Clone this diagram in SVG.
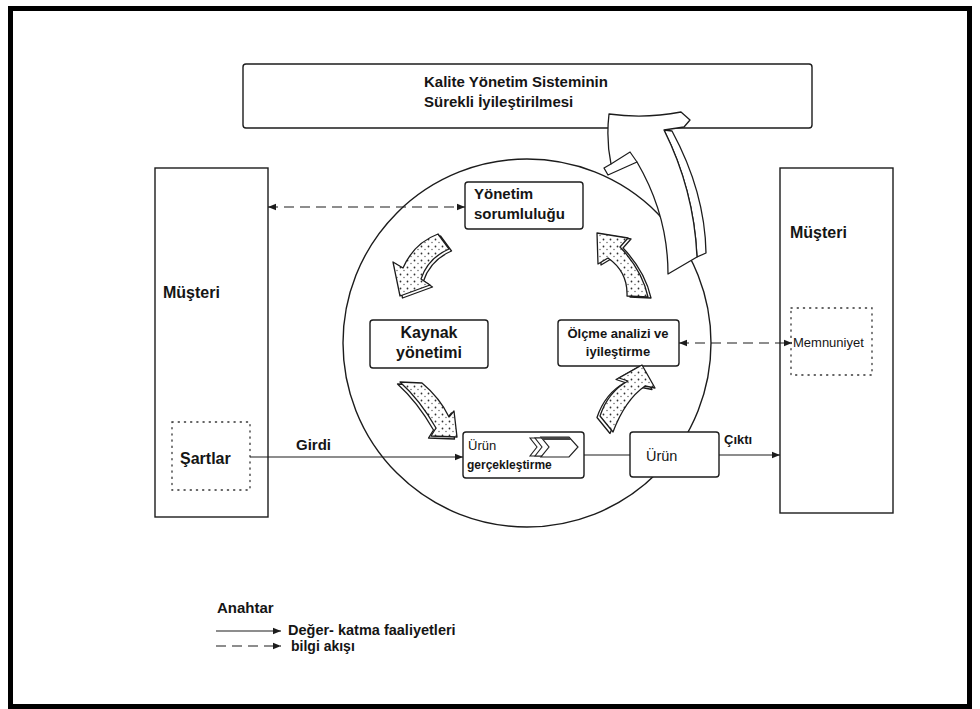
<svg xmlns="http://www.w3.org/2000/svg" xmlns:xlink="http://www.w3.org/1999/xlink" width="980" height="709" viewBox="0 0 980 709">
<style>
text{font-family:"Liberation Sans",Arial,sans-serif;fill:#151515}
.b{font-weight:bold}
.box{fill:#fff;stroke:#1c1c1c;stroke-width:1.4}
.dot{fill:none;stroke:#333;stroke-width:1.3;stroke-dasharray:1.2 5;stroke-linecap:round}
.solid{fill:none;stroke:#1c1c1c;stroke-width:1.2}
.dash{fill:none;stroke:#1c1c1c;stroke-width:1.2;stroke-dasharray:10 6}
.ol{fill:#fff;stroke:#1c1c1c;stroke-width:1.3;stroke-linejoin:round}
.st{fill:url(#dots);stroke:#1c1c1c;stroke-width:1.3;stroke-linejoin:round}
</style>
<defs>
<marker id="ah" viewBox="0 0 10 10" refX="10" refY="5" markerWidth="10" markerHeight="8" markerUnits="userSpaceOnUse" orient="auto-start-reverse">
<path d="M0,1 L10,5 L0,9 Z" fill="#1c1c1c"/>
</marker>
<pattern id="dots" width="7" height="7" patternUnits="userSpaceOnUse">
<rect width="7" height="7" fill="#fff"/>
<circle cx="1.5" cy="1.5" r="0.9" fill="#333"/>
<circle cx="5" cy="4.5" r="0.7" fill="#555"/>
</pattern>
<path id="a1" d="M438,234 L449,249 Q428,258 421,279 L430,285 L400,296 L393,262 L403,268 Q414,243 438,234 Z"/>
<path id="a2" d="M627,296 Q628,272 608,258 L598,264 L597,233 L628,238 L620,247 Q642,270 648,297 Z"/>
<path id="a3" d="M400,382 L422,383 Q440,398 449,417 L454,411 L457,437 L431,436 L436,428 Q420,400 400,382 Z"/>
<path id="a4" d="M600,416 Q608,392 628,381 L619,378 L642,365 L655,388 L645,386 Q625,400 613,432 Z"/>
</defs>

<rect x="0" y="0" width="980" height="709" fill="#fff"/>
<rect x="10.5" y="8.5" width="959" height="698" fill="none" stroke="#000" stroke-width="5"/>

<g id="top-box">
<rect class="box" x="243" y="64" width="569" height="64" rx="3"/>
<text class="b" x="424" y="87" font-size="15">Kalite Yönetim Sisteminin</text>
<text class="b" x="424" y="107" font-size="15">Sürekli İyileştirilmesi</text>
</g>

<g id="cycle-circle">
<ellipse cx="527" cy="343" rx="184" ry="184" fill="none" stroke="#1c1c1c" stroke-width="1.4"/>
</g>

<g id="improvement-arrow">
<path class="ol" d="M664,130 L672,131 Q705,192 706,253 L697,257 Q694,190 664,130 Z"/>
<path class="ol" d="M609,114 Q645,119 681,112 L690,120 L684,127 L664,130 Q694,190 697,257 L668,274 Q668,215 637,162 L608,175 L604,168 L611,164 Q606,140 609,114 Z"/>
<path class="solid" d="M611,164 L630,152 L637,162"/>
</g>

<g id="customer-left">
<rect class="box" x="155" y="168" width="113" height="349"/>
<text class="b" x="163" y="298" font-size="16">Müşteri</text>
</g>
<g id="sartlar">
<rect class="dot" x="172" y="422" width="78" height="68"/>
<text class="b" x="180" y="464" font-size="16">Şartlar</text>
</g>

<g id="customer-right">
<rect class="box" x="780" y="168" width="113" height="345"/>
<text class="b" x="790" y="238" font-size="16">Müşteri</text>
</g>
<g id="memnuniyet">
<rect class="dot" x="791" y="308" width="81" height="67"/>
<text x="793" y="347" font-size="13">Memnuniyet</text>
</g>

<g id="yonetim">
<rect class="box" x="465" y="182" width="118" height="47" rx="3"/>
<text class="b" x="474" y="199" font-size="15">Yönetim</text>
<text class="b" x="474" y="219" font-size="15">sorumluluğu</text>
</g>

<g id="kaynak">
<rect class="box" x="370" y="320" width="118" height="48" rx="3"/>
<text class="b" x="429" y="338" font-size="16" text-anchor="middle">Kaynak</text>
<text class="b" x="429" y="358" font-size="16" text-anchor="middle">yönetimi</text>
</g>

<g id="olcme">
<rect class="box" x="558" y="320" width="121" height="46" rx="3"/>
<text class="b" x="618" y="338" font-size="13" text-anchor="middle">Ölçme analizi ve</text>
<text class="b" x="618" y="356" font-size="13" text-anchor="middle">iyileştirme</text>
</g>

<g id="urun-gerceklestirme">
<rect class="box" x="463" y="432" width="121" height="46" rx="3"/>
<path d="M530,438 L555,438 L563,447 L555,456 L530,456 L537,447 Z" fill="#fff" stroke="#222" stroke-width="1.1"/>
<path d="M535,438 L560,438 L568,447 L560,456 L535,456 L542,447 Z" fill="#fff" stroke="#222" stroke-width="1.1"/>
<path d="M541,437 L569,437 L578,447 L569,457 L541,457 L549,447 Z" fill="#fff" stroke="#222" stroke-width="1.2"/>
<path d="M541,437 L569,437 L571,440 L543,440 Z" fill="#444"/>
<text x="468" y="450" font-size="13">Ürün</text>
<text class="b" x="467" y="469" font-size="12">gerçekleştirme</text>
</g>

<g id="urun">
<rect class="box" x="630" y="432" width="89" height="45" rx="3"/>
<text x="646" y="461" font-size="14.5">Ürün</text>
</g>

<g id="cycle-arrows">
<use xlink:href="#a1" class="ol" transform="translate(2.5,2)"/>
<use xlink:href="#a1" class="st"/>
<use xlink:href="#a2" class="ol" transform="translate(3,1)"/>
<use xlink:href="#a2" class="st"/>
<use xlink:href="#a3" class="ol" transform="translate(-2.5,2)"/>
<use xlink:href="#a3" class="st"/>
<use xlink:href="#a4" class="ol" transform="translate(-3,1.5)"/>
<use xlink:href="#a4" class="st"/>
</g>

<g id="connectors">
<line class="dash" x1="268" y1="207" x2="465" y2="207" marker-start="url(#ah)" marker-end="url(#ah)"/>
<line class="dash" x1="679" y1="343" x2="792" y2="343" marker-start="url(#ah)" marker-end="url(#ah)"/>
<line class="solid" x1="250" y1="457" x2="463" y2="457" marker-end="url(#ah)"/>
<line class="solid" x1="584" y1="455" x2="630" y2="455"/>
<line class="solid" x1="719" y1="455" x2="780" y2="455" marker-end="url(#ah)"/>
<text class="b" x="296" y="450" font-size="15">Girdi</text>
<text class="b" x="724" y="444" font-size="13">Çıktı</text>
</g>

<g id="legend">
<text class="b" x="217" y="613" font-size="15">Anahtar</text>
<line class="solid" x1="216" y1="631" x2="281" y2="631" marker-end="url(#ah)"/>
<text class="b" x="288" y="635" font-size="14.5">Değer- katma faaliyetleri</text>
<line class="dash" x1="216" y1="646" x2="281" y2="646" stroke-dasharray="12 7" marker-end="url(#ah)"/>
<text class="b" x="291" y="651" font-size="14">bilgi akışı</text>
</g>
</svg>
